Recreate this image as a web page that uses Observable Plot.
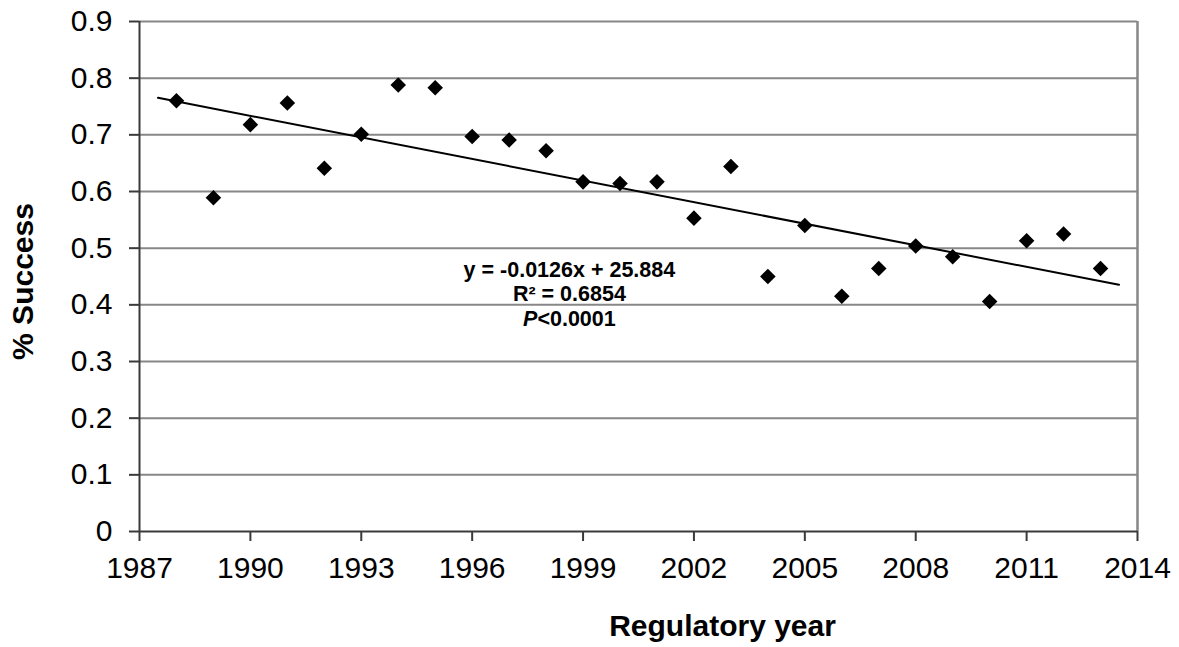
<!DOCTYPE html>
<html>
<head>
<meta charset="utf-8">
<script src="https://cdn.jsdelivr.net/npm/d3@7"></script>
<script src="https://cdn.jsdelivr.net/npm/@observablehq/plot@0.6"></script>
<style>
  html, body { margin: 0; padding: 0; background: white; }
</style>
</head>
<body>
<div id="chart"></div>
<script>
const years = [1988, 1989, 1990, 1991, 1992, 1993, 1994, 1995, 1996, 1997, 1998, 1999, 2000,
               2001, 2002, 2003, 2004, 2005, 2006, 2007, 2008, 2009, 2010, 2011, 2012, 2013];
const success = [0.760, 0.589, 0.718, 0.756, 0.641, 0.701, 0.788, 0.783, 0.697, 0.691, 0.672, 0.617, 0.614,
                 0.617, 0.553, 0.644, 0.450, 0.540, 0.415, 0.464, 0.504, 0.485, 0.406, 0.513, 0.525, 0.464];
const xTicks = [1987, 1990, 1993, 1996, 1999, 2002, 2005, 2008, 2011, 2014];
const yTicks = [0, 0.1, 0.2, 0.3, 0.4, 0.5, 0.6, 0.7, 0.8, 0.9];
const yTickLabels = ["0", "0.1", "0.2", "0.3", "0.4", "0.5", "0.6", "0.7", "0.8", "0.9"];
const equationLines = ["y = -0.0126x + 25.884", "R² = 0.6854", "P<0.0001"];
const xTitle = "Regulatory year";
const yTitle = "% Success";

const data = years.map((x, i) => ({x, y: success[i]}));

// least-squares trend line computed from the data
const mx = d3.mean(years), my = d3.mean(success);
const slope = d3.sum(years, (x, i) => (x - mx) * (success[i] - my)) / d3.sum(years, x => (x - mx) ** 2);
const intercept = my - slope * mx;
const trendX = [d3.min(years) - 0.5, d3.max(years) + 0.5];
const trend = trendX.map(x => ({x, y: slope * x + intercept}));

const grid = "#878787";
const axisColor = "#3a3a3a";
const font = "'Liberation Sans', Arial, sans-serif";

const chart = Plot.plot({
  width: 1179,
  height: 647,
  marginLeft: 139,
  marginRight: 42,
  marginTop: 21,
  marginBottom: 116,
  style: {fontFamily: font, background: "white", color: "black", overflow: "visible"},
  x: {domain: [1987, 2014]},
  y: {domain: [0, 0.9]},
  marks: [
    Plot.ruleY(yTicks.slice(1), {stroke: grid, strokeWidth: 2}),
    Plot.ruleX([xTicks[xTicks.length - 1]], {y1: 0, y2: 0.9, stroke: grid, strokeWidth: 2.5}),
    Plot.axisX({ticks: xTicks, tickFormat: d => String(d), tickSize: 10, tickPadding: 15,
                fontSize: 30, stroke: axisColor, strokeWidth: 2, label: null}),
    Plot.axisY({ticks: yTicks, tickFormat: d => yTickLabels[yTicks.indexOf(d)], tickSize: 10, tickPadding: 17,
                fontSize: 30, stroke: axisColor, strokeWidth: 2, label: null}),
    Plot.ruleX([xTicks[0]], {y1: 0, y2: 0.9, stroke: axisColor, strokeWidth: 2}),
    Plot.ruleY([0], {stroke: axisColor, strokeWidth: 2}),
    Plot.line(trend, {x: "x", y: "y", stroke: "black", strokeWidth: 2}),
    Plot.dot(data, {x: "x", y: "y", symbol: "diamond2", r: 7, fill: "black", stroke: "none"}),
    Plot.text([equationLines.join("\n")], {x: 1998.63, y: 0.3633, lineAnchor: "bottom", lineHeight: 1.13,
                fontSize: 21.5, fontWeight: "bold", fill: "black", textAnchor: "middle"}),
    Plot.text([xTitle], {frameAnchor: "bottom", dx: 84, dy: 104, lineAnchor: "bottom", textAnchor: "middle",
                fontSize: 30, fontWeight: "bold", fill: "black"}),
    Plot.text([yTitle], {frameAnchor: "left", dx: -116, dy: 5, rotate: -90, lineAnchor: "middle", textAnchor: "middle",
                fontSize: 30, fontWeight: "bold", fill: "black"})
  ]
});

// italic P in the significance line
chart.querySelectorAll("tspan").forEach(t => {
  if (t.textContent === "P<0.0001") {
    t.textContent = "";
    const p = document.createElementNS("http://www.w3.org/2000/svg", "tspan");
    p.setAttribute("font-style", "italic");
    p.textContent = "P";
    t.appendChild(p);
    t.appendChild(document.createTextNode("<0.0001"));
  }
});

document.getElementById("chart").appendChild(chart);
</script>
</body>
</html>
